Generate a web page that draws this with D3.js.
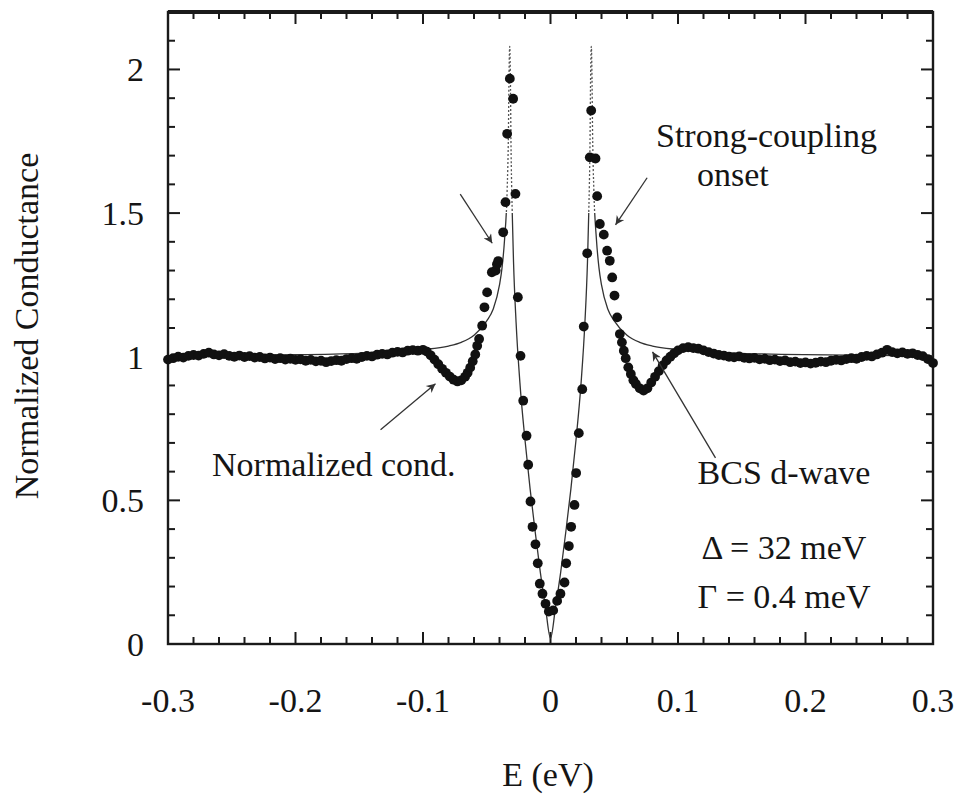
<!DOCTYPE html>
<html><head><meta charset="utf-8">
<script src="https://cdn.jsdelivr.net/npm/d3@7"></script>
<style>
html,body{margin:0;padding:0;background:#fff;}
svg text{font-family:"Liberation Serif","Times New Roman",serif;fill:#151515;}
</style></head>
<body><svg id="c" width="961" height="796"></svg>
<script>
// ---- Data ----
const measE = [
-0.300,-0.296,-0.292,-0.288,-0.284,-0.280,-0.276,-0.272,-0.268,-0.264,-0.260,-0.256,-0.252,-0.248,-0.244,-0.240,-0.236,-0.232,-0.228,-0.224,
-0.220,-0.216,-0.212,-0.208,-0.204,-0.200,-0.196,-0.192,-0.188,-0.184,-0.180,-0.176,-0.172,-0.168,-0.164,-0.160,-0.156,-0.152,-0.148,-0.144,
-0.140,-0.136,-0.132,-0.128,-0.124,-0.120,-0.116,-0.112,-0.108,-0.104,-0.100,-0.097,-0.094,-0.091,-0.088,-0.085,-0.082,-0.079,-0.076,-0.073,
-0.070,-0.067,-0.065,-0.063,-0.061,-0.059,-0.0575,-0.056,-0.0536,-0.0518,-0.0497,-0.046,-0.043,-0.042,-0.041,-0.0371,-0.0353,-0.034,-0.0319,-0.0293,
-0.0275,-0.0256,-0.0235,-0.0214,-0.0188,-0.0175,-0.0157,-0.0141,-0.0118,-0.0100,-0.0084,-0.0063,-0.0039,-0.0013,
0.0021,0.0052,0.0078,0.0110,0.0123,0.0144,0.0162,0.0188,0.0201,0.0222,0.0249,0.0261,0.0288,0.0308,0.0319,0.0353,0.0366,0.0387,0.0418,0.0444,
0.0465,0.0484,0.0502,0.0523,0.0544,0.056,0.0575,0.059,0.061,0.063,0.065,0.067,0.070,0.073,0.076,0.079,0.082,0.085,0.088,0.091,
0.094,0.097,0.100,0.104,0.108,0.112,0.116,0.120,0.124,0.128,0.132,0.136,0.140,0.144,0.148,0.152,0.156,0.160,0.164,0.168,
0.172,0.176,0.180,0.184,0.188,0.192,0.196,0.200,0.204,0.208,0.212,0.216,0.220,0.224,0.228,0.232,0.236,0.240,0.244,0.248,
0.252,0.256,0.260,0.264,0.268,0.272,0.276,0.280,0.284,0.288,0.292,0.296,0.300];
const measG = [
0.990,0.995,1.000,0.997,1.003,1.006,1.004,1.010,1.014,1.008,1.005,1.009,1.003,1.000,1.004,0.999,1.002,0.997,0.999,0.994,
0.997,0.992,0.995,0.990,0.993,0.989,0.991,0.986,0.989,0.984,0.986,0.981,0.985,0.988,0.986,0.992,0.995,0.993,0.999,1.003,
1.001,1.007,1.010,1.008,1.014,1.017,1.015,1.021,1.023,1.021,1.024,1.018,1.005,0.990,0.974,0.958,0.944,0.931,0.920,0.914,
0.918,0.930,0.944,0.962,0.984,1.008,1.038,1.062,1.108,1.172,1.224,1.294,1.300,1.322,1.333,1.433,1.538,1.776,1.968,1.898,
1.567,1.207,1.003,0.847,0.725,0.624,0.496,0.408,0.347,0.281,0.210,0.175,0.140,0.113,
0.117,0.150,0.175,0.214,0.281,0.341,0.408,0.484,0.595,0.734,0.887,1.105,1.360,1.694,1.857,1.690,1.559,1.462,1.425,1.369,
1.334,1.276,1.213,1.137,1.079,1.050,1.021,0.995,0.963,0.940,0.918,0.905,0.890,0.882,0.890,0.910,0.930,0.950,0.970,0.987,
1.000,1.012,1.022,1.030,1.033,1.030,1.028,1.022,1.016,1.011,1.006,1.004,1.000,0.998,1.001,0.996,0.994,0.996,0.991,0.993,
0.988,0.990,0.985,0.987,0.981,0.983,0.978,0.980,0.976,0.979,0.983,0.981,0.986,0.989,0.987,0.992,0.995,0.993,0.999,1.003,
1.001,1.008,1.014,1.024,1.016,1.012,1.015,1.010,1.012,1.006,1.002,0.992,0.978];

// BCS d-wave fit curve (Δ = 32 meV, Γ = 0.4 meV)
const fitE = [-0.30,-0.25,-0.20,-0.15,-0.12,-0.10,-0.08,-0.07,-0.06,-0.05,-0.045,-0.040,-0.038,-0.036,-0.034,-0.033,-0.0325,-0.032,
-0.0315,-0.031,-0.030,-0.029,-0.027,-0.024,-0.020,-0.016,-0.012,-0.008,-0.004,0,
0.004,0.008,0.012,0.016,0.020,0.024,0.027,0.029,0.030,0.031,0.0315,
0.032,0.0325,0.033,0.034,0.036,0.038,0.040,0.045,0.05,0.06,0.07,0.08,0.10,0.12,0.15,0.20,0.25,0.30];
const fitG = [1.003,1.005,1.007,1.012,1.018,1.025,1.037,1.05,1.075,1.125,1.165,1.25,1.31,1.41,1.58,1.78,1.99,2.08,
1.99,1.75,1.50,1.33,1.12,0.91,0.71,0.54,0.39,0.25,0.13,0.02,
0.13,0.25,0.39,0.54,0.71,0.91,1.12,1.33,1.50,1.75,1.99,
2.08,1.99,1.78,1.58,1.41,1.31,1.25,1.165,1.125,1.075,1.05,1.037,1.025,1.018,1.012,1.007,1.005,1.003];

const xTicks = [-0.3,-0.2,-0.1,0,0.1,0.2,0.3];
const xTickLabels = ["-0.3","-0.2","-0.1","0","0.1","0.2","0.3"];
const yTicks = [0,0.5,1,1.5,2];
const yTickLabels = ["0","0.5","1","1.5","2"];
const xTitle = "E (eV)";
const yTitle = "Normalized Conductance";
const notes = [
  {t:"Strong-coupling", x:656, y:147, a:"start"},
  {t:"onset", x:697, y:186, a:"start"},
  {t:"Normalized cond.", x:212, y:476, a:"start"},
  {t:"BCS d-wave", x:784, y:484, a:"middle"},
  {t:"\u0394 = 32 meV", x:784, y:559, a:"middle"},
  {t:"\u0393 = 0.4 meV", x:784, y:608, a:"middle"}
];
// arrows: [fromE, fromG, toE, toG]
const arrows = [
  [-0.0708, 1.566, -0.0457, 1.395],
  [0.0758, 1.623, 0.0510, 1.459],
  [-0.1333, 0.746, -0.0902, 0.906],
  [0.1294, 0.648, 0.0800, 1.017]
];

// ---- Layout ----
const L=168, R=933, T=12, B=644;
const svg = d3.select("#c");
const x = d3.scaleLinear().domain([-0.3,0.3]).range([L,R]);
const y = d3.scaleLinear().domain([0,2.2]).range([B,T]);
const ink = "#1a1a1a";

// frame
svg.append("rect").attr("x",L).attr("y",T).attr("width",R-L).attr("height",B-T)
  .attr("fill","none").attr("stroke",ink).attr("stroke-width",2.4);
svg.append("line").attr("x1",L).attr("x2",R).attr("y1",T).attr("y2",T).attr("stroke",ink).attr("stroke-width",4);

// ticks (inward, all four sides)
const xMinor = d3.range(-0.3,0.3001,0.02).map(v=>+v.toFixed(3));
const yMinor = d3.range(0,2.2001,0.1).map(v=>+v.toFixed(2));
const isMajX = v => Math.abs(v*10-Math.round(v*10))<1e-6;
const isMajY = v => Math.abs(v*2-Math.round(v*2))<1e-6;
const tg = svg.append("g").attr("stroke",ink).attr("stroke-width",2);
xMinor.forEach(v=>{
  const len = isMajX(v)?12:7;
  tg.append("line").attr("x1",x(v)).attr("x2",x(v)).attr("y1",B).attr("y2",B-len);
  tg.append("line").attr("x1",x(v)).attr("x2",x(v)).attr("y1",T).attr("y2",T+len);
});
yMinor.forEach(v=>{
  const len = isMajY(v)?12:7;
  tg.append("line").attr("x1",L).attr("x2",L+len).attr("y1",y(v)).attr("y2",y(v));
  tg.append("line").attr("x1",R).attr("x2",R-len).attr("y1",y(v)).attr("y2",y(v));
});

// tick labels
svg.append("g").selectAll("text").data(xTicks).join("text")
  .attr("x",d=>x(d)).attr("y",712).attr("text-anchor","middle")
  .attr("font-size",34).text((d,i)=>xTickLabels[i]);
svg.append("g").selectAll("text").data(yTicks).join("text")
  .attr("x",144).attr("y",d=>y(d)+12).attr("text-anchor","end")
  .attr("font-size",34).text((d,i)=>yTickLabels[i]);

// axis titles
svg.append("text").attr("x",548).attr("y",786).attr("text-anchor","middle")
  .attr("font-size",34).text(xTitle);
svg.append("text").attr("transform","translate(38,326) rotate(-90)")
  .attr("text-anchor","middle").attr("font-size",34).text(yTitle);

// clip paths for the fit curve (steep top part drawn dotted)
const defs = svg.append("defs");
const split = y(1.5);
defs.append("clipPath").attr("id","cTop").append("rect")
  .attr("x",L).attr("y",T).attr("width",R-L).attr("height",split-T);
defs.append("clipPath").attr("id","cBot").append("rect")
  .attr("x",L).attr("y",split).attr("width",R-L).attr("height",B-split);

const fit = fitE.map((e,i)=>[e,fitG[i]]);
const line = d3.line().x(d=>x(d[0])).y(d=>y(d[1])).curve(d3.curveMonotoneX);
svg.append("path").attr("d",line(fit)).attr("fill","none").attr("stroke","#333")
  .attr("stroke-width",1.3).attr("clip-path","url(#cBot)");
svg.append("path").attr("d",line(fit)).attr("fill","none").attr("stroke","#555")
  .attr("stroke-width",1.3).attr("stroke-dasharray","2,2").attr("clip-path","url(#cTop)");

// measured points
svg.append("g").selectAll("circle").data(measE.map((e,i)=>[e,measG[i]])).join("circle")
  .attr("cx",d=>x(d[0])).attr("cy",d=>y(d[1])).attr("r",4.9).attr("fill","#111");

// annotations
svg.append("g").selectAll("text").data(notes).join("text")
  .attr("x",d=>d.x).attr("y",d=>d.y).attr("text-anchor",d=>d.a)
  .attr("font-size",34).text(d=>d.t);

// arrows
defs.append("marker").attr("id","ah").attr("viewBox","0 0 10 10").attr("refX",10).attr("refY",5)
  .attr("markerWidth",14).attr("markerHeight",9).attr("markerUnits","userSpaceOnUse").attr("orient","auto")
  .append("path").attr("d","M0,0 L10,5 L0,10 L3,5 Z").attr("fill","#333");
svg.append("g").selectAll("line").data(arrows).join("line")
  .attr("x1",d=>x(d[0])).attr("y1",d=>y(d[1])).attr("x2",d=>x(d[2])).attr("y2",d=>y(d[3]))
  .attr("stroke","#333").attr("stroke-width",1.3).attr("marker-end","url(#ah)");
</script></body></html>
